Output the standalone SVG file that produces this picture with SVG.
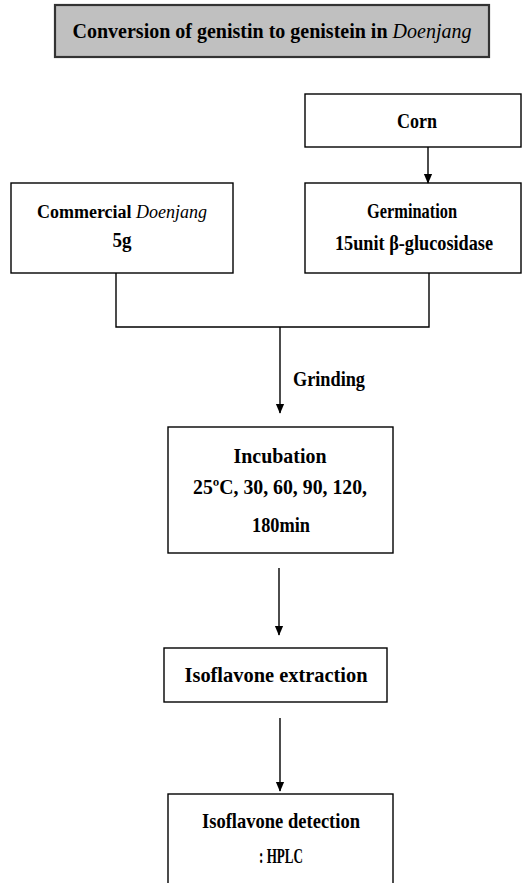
<svg xmlns="http://www.w3.org/2000/svg" width="525" height="883" viewBox="0 0 525 883">
<style>
.box{fill:#fff;stroke:#000;stroke-width:1.4}
.title{fill:#c0c0c0;stroke:#333;stroke-width:2.2}
text{font-family:"Liberation Serif","Times New Roman",serif;font-weight:bold;font-size:21px;fill:#000;text-anchor:middle}
.it{font-style:italic;font-weight:normal}
.ln{fill:none;stroke:#000;stroke-width:1.4}
</style>
<defs>
<marker id="arr" markerWidth="10" markerHeight="12" refX="11" refY="5" orient="auto" markerUnits="userSpaceOnUse" viewBox="0 0 12 10">
<path d="M0,0 L12,5 L0,10 Z" fill="#000"/>
</marker>
</defs>
<g id="title">
<rect class="title" x="55" y="5" width="434" height="52"/>
<text x="272" y="38" style="font-size:20px">Conversion of genistin to genistein in <tspan class="it">Doenjang</tspan></text>
</g>
<g id="corn">
<rect class="box" x="305" y="94" width="216" height="53"/>
<text x="417" y="128" textLength="40" lengthAdjust="spacingAndGlyphs">Corn</text>
</g>
<g id="commercial">
<rect class="box" x="11" y="183" width="222" height="90"/>
<text x="122" y="218" style="font-size:18px">Commercial <tspan class="it">Doenjang</tspan></text>
<text x="122" y="247" textLength="19" lengthAdjust="spacingAndGlyphs">5g</text>
</g>
<g id="germination">
<rect class="box" x="305" y="183" width="216" height="90"/>
<text x="412" y="218" textLength="90" lengthAdjust="spacingAndGlyphs">Germination</text>
<text x="414" y="250" textLength="158" lengthAdjust="spacingAndGlyphs">15unit β-glucosidase</text>
</g>
<g id="incubation">
<rect class="box" x="168" y="427" width="225" height="126"/>
<text x="280" y="463" textLength="93" lengthAdjust="spacingAndGlyphs">Incubation</text>
<text x="280" y="494" textLength="174" lengthAdjust="spacingAndGlyphs">25ºC, 30, 60, 90, 120,</text>
<text x="281" y="532" textLength="58" lengthAdjust="spacingAndGlyphs">180min</text>
</g>
<g id="extraction">
<rect class="box" x="164" y="648" width="223" height="54"/>
<text x="276" y="682" textLength="183" lengthAdjust="spacingAndGlyphs">Isoflavone extraction</text>
</g>
<g id="detection">
<rect class="box" x="168" y="794" width="225" height="100"/>
<text x="281" y="828" textLength="158" lengthAdjust="spacingAndGlyphs">Isoflavone detection</text>
<text x="281" y="863" textLength="44" lengthAdjust="spacingAndGlyphs">: HPLC</text>
</g>
<g id="connectors">
<line class="ln" x1="428" y1="147" x2="428" y2="183" marker-end="url(#arr)"/>
<polyline class="ln" points="116,273 116,327 429,327 429,273"/>
<line class="ln" x1="280" y1="327" x2="280" y2="413" marker-end="url(#arr)"/>
<text x="329" y="386" textLength="72" lengthAdjust="spacingAndGlyphs">Grinding</text>
<line class="ln" x1="279" y1="568" x2="279" y2="635" marker-end="url(#arr)"/>
<line class="ln" x1="280" y1="718" x2="280" y2="791" marker-end="url(#arr)"/>
</g>
</svg>
